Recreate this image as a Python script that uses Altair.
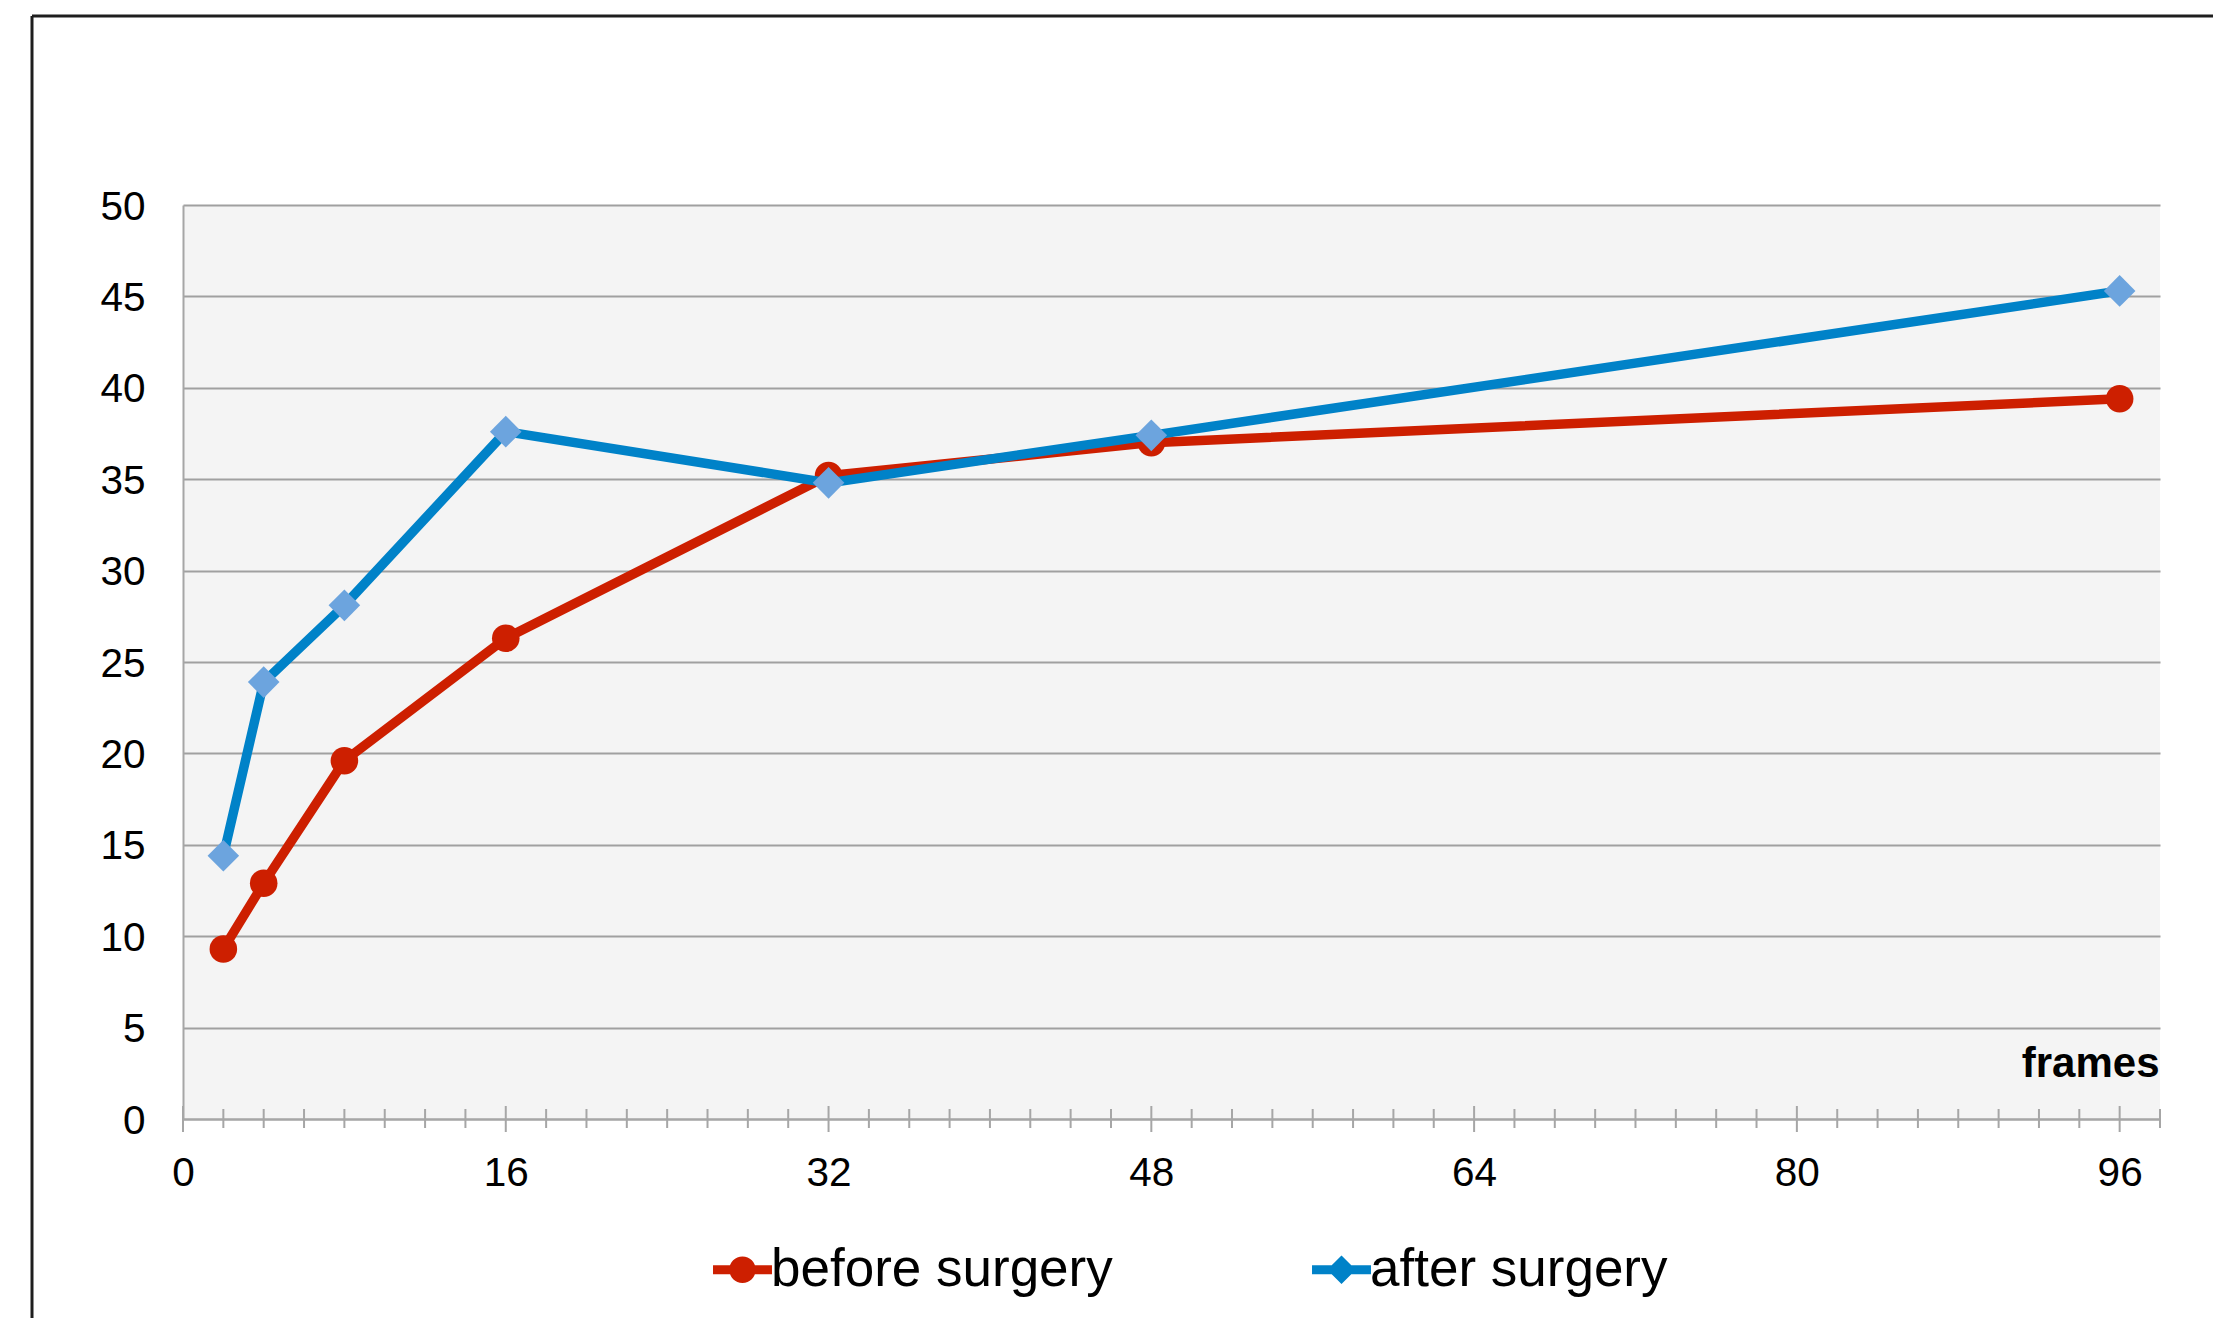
import altair as alt
import pandas as pd

# ---- data ----
frames = [2, 4, 8, 16, 32, 48, 96]
before_surgery = [9.3, 12.9, 19.6, 26.3, 35.2, 37.0, 39.4]
after_surgery = [14.4, 23.9, 28.1, 37.6, 34.8, 37.4, 45.3]
series_names = ["before surgery", "after surgery"]
series_colors = ["#CD1F00", "#0082C8"]
diamond_fill = "#6CA4DE"

x_major_ticks = [0, 16, 32, 48, 64, 80, 96]
x_minor_ticks = [2, 4, 6, 8, 10, 12, 14, 18, 20, 22, 24, 26, 28, 30,
                 34, 36, 38, 40, 42, 44, 46, 50, 52, 54, 56, 58, 60, 62,
                 66, 68, 70, 72, 74, 76, 78, 82, 84, 86, 88, 90, 92, 94, 98]
y_ticks = [0, 5, 10, 15, 20, 25, 30, 35, 40, 45, 50]

W, H = 1977, 914
PAD = {"left": 175, "top": 197, "right": 53, "bottom": 199}
FONT = "Liberation Sans"

rows = []
for f, b in zip(frames, before_surgery):
    rows.append({"frames": f, "value": b, "series": series_names[0]})
for f, a in zip(frames, after_surgery):
    rows.append({"frames": f, "value": a, "series": series_names[1]})
df = pd.DataFrame(rows)

xscale = alt.Scale(domain=[0, 98], nice=False, zero=False)
yscale = alt.Scale(domain=[0, 50], nice=False)
cscale = alt.Scale(domain=series_names, range=series_colors)

# legend symbols: a short line with a marker on it
p_circle = "M-2.68,-0.4L2.68,-0.4L2.68,0.4L-2.68,0.4Z M1.2,0A1.2,1.2,0,1,1,-1.2,0A1.2,1.2,0,1,1,1.2,0Z"
p_diamond = "M-2.68,-0.4L2.68,-0.4L2.68,0.4L-2.68,0.4Z M0,-1.3L1.3,0L0,1.3L-1.3,0Z"
sscale = alt.Scale(domain=series_names, range=[p_circle, p_diamond])

legend = alt.Legend(
    orient="none", legendX=533, legendY=1038, direction="horizontal",
    title=None, padding=0,
    labelFont=FONT, labelFontSize=53, labelColor="black", labelLimit=2000,
    symbolSize=484, labelOffset=2, columnPadding=199,
    symbolStrokeWidth=0, symbolOpacity=1,
)

xaxis = alt.Axis(
    values=x_major_ticks, ticks=False, tickSize=0, grid=False,
    domainColor="#A6A6A6", domainWidth=2,
    labelFont=FONT, labelFontSize=40.5, labelColor="black", labelPadding=34,
    labelFlush=False, labelOverlap=False,
    title="frames", titleFont=FONT, titleFontSize=42, titleFontWeight="bold",
    titleColor="black", titleX=W - 1, titleY=-43, titleAlign="right",
    titleBaseline="alphabetic", titleAnchor="end",
)
yaxis = alt.Axis(
    values=y_ticks, ticks=False, tickSize=0, grid=True,
    gridColor="#A0A0A0", gridWidth=2,
    domainColor="#A6A6A6", domainWidth=2,
    labelFont=FONT, labelFontSize=40.5, labelColor="black", labelPadding=38,
    labelOffset=2, title=None,
)

base = alt.Chart(df)
X = alt.X("frames:Q", scale=xscale, axis=xaxis)
Y = alt.Y("value:Q", scale=yscale, axis=yaxis)
XT = alt.X("t:Q", scale=xscale, axis=xaxis)

red_line = base.transform_filter(alt.datum.series == series_names[0]).mark_line(
    strokeWidth=9.5, color=series_colors[0]).encode(x=X, y=Y)
blue_line = base.transform_filter(alt.datum.series == series_names[1]).mark_line(
    strokeWidth=9.5, color=series_colors[1]).encode(x=X, y=Y)
red_pts = base.transform_filter(alt.datum.series == series_names[0]).mark_point(
    shape="circle", filled=True, size=760, opacity=1, color=series_colors[0]).encode(x=X, y=Y)
blue_pts = base.transform_filter(alt.datum.series == series_names[1]).mark_point(
    shape="diamond", filled=True, size=1000, opacity=1, color=diamond_fill).encode(x=X, y=Y)

# legend-only layer (no rows drawn; entries come from the scale domains)
legend_layer = base.transform_filter("false").mark_point(
    filled=True, opacity=1).encode(
    x=X, y=Y,
    color=alt.Color("series:N", scale=cscale, legend=legend),
    shape=alt.Shape("series:N", scale=sscale, legend=legend),
)

minor = alt.Chart(pd.DataFrame({"t": x_minor_ticks})).mark_rule(
    color="#A6A6A6", strokeWidth=2).encode(
    x=XT, y=alt.value(H - 10), y2=alt.value(H + 9),
)
major = alt.Chart(pd.DataFrame({"t": x_major_ticks})).mark_rule(
    color="#A6A6A6", strokeWidth=2).encode(
    x=XT, y=alt.value(H - 13), y2=alt.value(H + 13),
)

one = alt.Data(values=[{"k": 1}])
frame_left = alt.Chart(one).mark_rule(color="#1E1E1E", strokeWidth=3).encode(
    x=alt.value(-151), y=alt.value(-189), y2=alt.value(H + PAD["bottom"]))
frame_top = alt.Chart(one).mark_rule(color="#1E1E1E", strokeWidth=3).encode(
    x=alt.value(-151), x2=alt.value(W + PAD["right"]), y=alt.value(-189))

chart = alt.layer(
    red_line, minor, major, red_pts, blue_line, blue_pts, legend_layer,
    frame_left, frame_top
).properties(
    width=W, height=H, padding=PAD,
    autosize=alt.AutoSizeParams(type="none"),
    background="white",
).configure_view(stroke=None, fill="#F4F4F4")

chart.save("out.html", embed_options={"renderer": "svg", "actions": False})
